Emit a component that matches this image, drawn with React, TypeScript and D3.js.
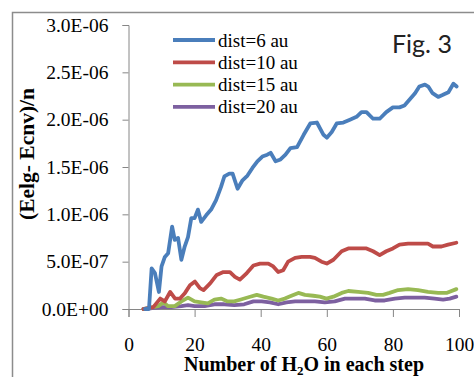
import { useRef, useEffect } from "react";
import { select, scaleLinear, line, axisLeft, axisBottom, format } from "d3";

const W = 474;
const H = 377;
const margin = { top: 25, right: 15, bottom: 68, left: 128.5 };

// values, y in units of 1e-6
const xBlue = [5, 6.2, 7, 8, 9.2, 10, 11, 12, 13.2, 14, 15, 16, 17, 18, 19, 20, 21, 22, 23.5, 25, 26.5, 28, 29, 30.5, 31.5, 33, 34.5, 36, 37.5, 39, 40.5, 42, 43, 44.5, 46, 47.5, 49, 51, 53, 55, 57, 59, 60, 61.5, 63, 65, 67, 69, 70.5, 72, 74, 76, 78, 80, 82, 83.5, 85, 86.7, 88, 89.7, 90.7, 92, 93.7, 95, 96.8, 98.3, 99.3];
const yBlue = [0, 0, 0.43, 0.38, 0.18, 0.45, 0.55, 0.59, 0.87, 0.73, 0.75, 0.52, 0.66, 0.76, 0.96, 0.96, 1.05, 0.92, 0.99, 1.05, 1.15, 1.29, 1.4, 1.43, 1.43, 1.27, 1.36, 1.41, 1.49, 1.56, 1.61, 1.63, 1.65, 1.56, 1.58, 1.63, 1.7, 1.71, 1.84, 1.96, 1.97, 1.84, 1.81, 1.87, 1.96, 1.97, 2.0, 2.03, 2.08, 2.08, 2.01, 2.01, 2.08, 2.13, 2.13, 2.15, 2.21, 2.28, 2.35, 2.37, 2.35, 2.28, 2.24, 2.26, 2.29, 2.38, 2.35];

const xRed = [4.5, 7.5, 9.6, 11, 12.6, 14.1, 15.6, 17.1, 18.6, 20.1, 21.6, 22.7, 24.7, 26.7, 28.7, 30.7, 32.2, 33.7, 35.8, 37.8, 39.8, 42.3, 43.8, 45.3, 46.8, 48.3, 50.4, 52.4, 54.9, 56.4, 58.4, 60, 62, 64.5, 66.5, 69.5, 72, 74, 76, 78, 80, 82, 84.6, 87.6, 90.6, 92.1, 94.7, 96.7, 99.2];
const yRed = [0, 0.02, 0.11, 0.08, 0.18, 0.11, 0.11, 0.17, 0.25, 0.29, 0.22, 0.2, 0.27, 0.36, 0.39, 0.39, 0.34, 0.31, 0.38, 0.46, 0.48, 0.48, 0.45, 0.39, 0.41, 0.5, 0.54, 0.55, 0.55, 0.54, 0.5, 0.48, 0.52, 0.61, 0.64, 0.64, 0.64, 0.61, 0.57, 0.61, 0.64, 0.68, 0.69, 0.69, 0.69, 0.66, 0.66, 0.68, 0.7];

const xGreen = [4.5, 9, 10.6, 12, 14, 16, 18, 20, 22, 24, 26, 28, 30, 32, 34, 36.8, 38.8, 40.8, 43.3, 45.3, 47.3, 49.3, 51.4, 53.4, 55.9, 57.9, 59.9, 62, 64.5, 66.5, 69.5, 72.5, 75, 77, 79, 81.6, 84.6, 87.6, 90.6, 93.7, 96.2, 99.2];
const yGreen = [0, 0.03, 0.07, 0.03, 0.03, 0.08, 0.12, 0.08, 0.07, 0.06, 0.1, 0.11, 0.08, 0.08, 0.1, 0.13, 0.15, 0.13, 0.11, 0.09, 0.11, 0.14, 0.17, 0.15, 0.14, 0.13, 0.11, 0.13, 0.17, 0.19, 0.18, 0.17, 0.15, 0.15, 0.17, 0.2, 0.21, 0.2, 0.18, 0.17, 0.17, 0.21];

const xPurple = [4.5, 10, 13, 16, 18, 20, 23, 26, 29, 32, 35, 37.8, 40.3, 42.8, 45.3, 47.8, 50.4, 53.4, 56.4, 59.4, 62.4, 65.5, 68.5, 71.5, 74.5, 77.5, 80.6, 83.6, 86.6, 89.6, 92.6, 95.2, 97.2, 99.2];
const yPurple = [0, 0.02, 0.02, 0.03, 0.04, 0.03, 0.03, 0.05, 0.05, 0.04, 0.05, 0.08, 0.08, 0.07, 0.05, 0.07, 0.08, 0.08, 0.08, 0.07, 0.08, 0.11, 0.11, 0.11, 0.09, 0.09, 0.11, 0.12, 0.12, 0.12, 0.11, 0.1, 0.11, 0.13];

const seriesNames = ["dist=6 au", "dist=10 au", "dist=15 au", "dist=20 au"];
const colors = ["#4a7ebb", "#be4b48", "#98b954", "#7d60a0"];
const xTicks = [0, 20, 40, 60, 80, 100];
const yTicks = [0, 0.5, 1.0, 1.5, 2.0, 2.5, 3.0];

export default function App() {
  const svgRef = useRef<SVGSVGElement>(null);

  useEffect(() => {
    const svg = select(svgRef.current);
    svg.selectAll("*").remove();

    const x = scaleLinear().domain([0, 100]).range([margin.left, W - margin.right]);
    const y = scaleLinear().domain([0, 3.0]).range([H - margin.bottom, margin.top]);

    // frame
    svg.append("path")
      .attr("d", `M12.5,${H} L12.5,12.5 L${W},12.5`)
      .attr("fill", "none")
      .attr("stroke", "#8c8c8c")
      .attr("stroke-width", 1.5);

    // y axis
    const yAxis = svg.append("g")
      .attr("transform", `translate(${margin.left},0)`)
      .call(axisLeft(y).tickValues(yTicks).tickSize(6).tickPadding(14)
        .tickFormat((d) => {
          const v = +d * 1e-6;
          if (v === 0) return "0.0E+00";
          const e = Math.floor(Math.log10(v) + 1e-9);
          const m = v / Math.pow(10, e);
          return `${m.toFixed(1)}E-${String(-e).padStart(2, "0")}`;
        }));
    yAxis.select(".domain").attr("stroke", "#868686");
    yAxis.selectAll(".tick line").attr("stroke", "#868686");
    yAxis.selectAll(".tick text")
      .attr("fill", "#000")
      .style("font-family", "'Liberation Serif', serif")
      .style("font-size", "19.5px");

    // x axis
    const xAxis = svg.append("g")
      .attr("transform", `translate(0,${H - margin.bottom})`)
      .call(axisBottom(x).tickValues(xTicks).tickSize(8).tickPadding(20).tickFormat(format("d")));
    xAxis.select(".domain").attr("stroke", "#868686");
    xAxis.selectAll(".tick line").attr("stroke", "#868686");
    xAxis.selectAll(".tick text")
      .attr("fill", "#000")
      .style("font-family", "'Liberation Serif', serif")
      .style("font-size", "19.5px");

    // lines
    const series = [
      xBlue.map((v, i) => [v, yBlue[i]]),
      xRed.map((v, i) => [v, yRed[i]]),
      xGreen.map((v, i) => [v, yGreen[i]]),
      xPurple.map((v, i) => [v, yPurple[i]]),
    ];
    const path = line<number[]>().x((d) => x(d[0])).y((d) => y(d[1]));

    svg.append("g")
      .selectAll("path")
      .data(series.slice().reverse())
      .join("path")
      .attr("d", path)
      .attr("fill", "none")
      .attr("stroke", (_, i) => colors[3 - i])
      .attr("stroke-width", 3.8)
      .attr("stroke-linejoin", "round")
      .attr("stroke-linecap", "round");

    // legend
    const legend = svg.append("g");
    legend.selectAll("line")
      .data(seriesNames)
      .join("line")
      .attr("x1", 173).attr("x2", 215)
      .attr("y1", (_, i) => 40 + i * 22.3)
      .attr("y2", (_, i) => 40 + i * 22.3)
      .attr("stroke", (_, i) => colors[i])
      .attr("stroke-width", 3.8);
    legend.selectAll("text")
      .data(seriesNames)
      .join("text")
      .attr("x", 218)
      .attr("y", (_, i) => 46.5 + i * 22.3)
      .style("font-family", "'Liberation Serif', serif")
      .style("font-size", "19px")
      .text((d) => d);

    // Fig. 3
    svg.append("text")
      .attr("x", 392)
      .attr("y", 53)
      .style("font-family", "Lato, sans-serif")
      .style("font-size", "25px")
      .attr("fill", "#222")
      .text("Fig. 3");

    // y title
    svg.append("text")
      .attr("transform", "translate(34,154) rotate(-90)")
      .attr("text-anchor", "middle")
      .style("font-family", "'Liberation Serif', serif")
      .style("font-size", "21.5px")
      .style("font-weight", "bold")
      .text("(Eelg- Ecnv)/n");

    // x title
    const xt = svg.append("text")
      .attr("x", 304)
      .attr("y", 371)
      .attr("text-anchor", "middle")
      .style("font-family", "'Liberation Serif', serif")
      .style("font-size", "20px")
      .style("font-weight", "bold");
    xt.append("tspan").text("Number of H");
    xt.append("tspan").attr("dy", 4).style("font-size", "13px").text("2");
    xt.append("tspan").attr("dy", -4).text("O in each step");
  }, []);

  return (
    <svg
      ref={svgRef}
      width={W}
      height={H}
      style={{ position: "absolute", left: 0, top: 0, background: "#fff" }}
    />
  );
}
